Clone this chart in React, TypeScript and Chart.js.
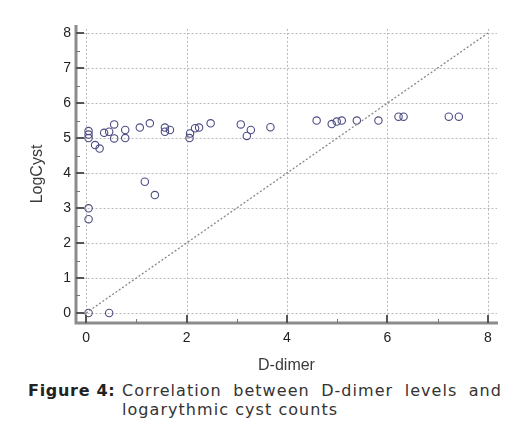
import React, { useEffect, useRef } from "react";
import { Chart, registerables } from "chart.js";

Chart.register(...registerables);

const dDimer = [
  0.05, 0.05, 0.05, 0.18, 0.27, 0.36, 0.46, 0.56, 0.56, 0.78, 0.78, 1.07, 1.27, 1.17, 1.37,
  1.57, 1.57, 1.67, 2.06, 2.07, 2.17, 2.25, 2.48, 3.08, 3.2, 3.28, 3.67, 4.59, 4.89, 4.99,
  5.09, 5.39, 5.82, 6.22, 6.32, 7.22, 7.42, 0.05, 0.05, 0.05, 0.46,
];
const logCyst = [
  5.2, 5.1, 5.0, 4.8, 4.7, 5.15, 5.18, 5.39, 4.99, 5.23, 5.0, 5.3, 5.42, 3.75, 3.37,
  5.3, 5.18, 5.23, 5.0, 5.13, 5.28, 5.3, 5.42, 5.39, 5.06, 5.23, 5.31, 5.5, 5.4, 5.47,
  5.5, 5.5, 5.5, 5.61, 5.61, 5.61, 5.61, 2.99, 2.68, 0.0, 0.0,
];
const identityLine = [0, 8];
const xTicks = [0, 2, 4, 6, 8];
const xMinor = [1, 3, 5, 7];
const yTicks = [0, 1, 2, 3, 4, 5, 6, 7, 8];
const yMinor = [0.5, 1.5, 2.5, 3.5, 4.5, 5.5, 6.5, 7.5];

const captionLabel = "Figure 4:";
const captionLine1 = "Correlation between D-dimer levels and";
const captionLine2 = "logarythmic cyst counts";

const tickFont = { family: "'Liberation Sans', Arial, sans-serif", size: 14 };
const titleFont = { family: "'Liberation Sans', Arial, sans-serif", size: 16 };

const framePlugin = {
  id: "frame",
  beforeDatasetsDraw(chart: any) {
    const { ctx, chartArea, scales } = chart;
    const xs = scales.x;
    const ys = scales.y;
    ctx.save();
    ctx.strokeStyle = "#b8b8b8";
    ctx.lineWidth = 1;
    ctx.setLineDash([2, 2]);
    const gx0 = xs.getPixelForValue(-0.05);
    for (const v of yTicks) {
      const y = Math.round(ys.getPixelForValue(v)) + 0.5;
      ctx.beginPath();
      ctx.moveTo(gx0, y);
      ctx.lineTo(chartArea.right, y);
      ctx.stroke();
    }
    const gy0 = ys.getPixelForValue(8.12);
    for (const v of xTicks) {
      const x = Math.round(xs.getPixelForValue(v)) + 0.5;
      ctx.beginPath();
      ctx.moveTo(x, gy0);
      ctx.lineTo(x, chartArea.bottom);
      ctx.stroke();
    }
    ctx.restore();
  },
  afterDatasetsDraw(chart: any) {
    const { ctx, chartArea, scales } = chart;
    const xs = scales.x;
    const ys = scales.y;
    ctx.save();
    ctx.setLineDash([]);
    ctx.strokeStyle = "#8c8c8c";
    ctx.lineWidth = 3;
    ctx.beginPath();
    ctx.moveTo(chartArea.left, chartArea.top);
    ctx.lineTo(chartArea.left, chartArea.bottom);
    ctx.lineTo(chartArea.right + 1, chartArea.bottom);
    ctx.stroke();
    ctx.strokeStyle = "#555";
    ctx.lineWidth = 2;
    for (const v of yTicks) {
      const y = Math.round(ys.getPixelForValue(v));
      ctx.beginPath();
      ctx.moveTo(chartArea.left, y);
      ctx.lineTo(chartArea.left + 8, y);
      ctx.stroke();
    }
    for (const v of xTicks) {
      const x = Math.round(xs.getPixelForValue(v));
      ctx.beginPath();
      ctx.moveTo(x, chartArea.bottom);
      ctx.lineTo(x, chartArea.bottom - 8);
      ctx.stroke();
    }
    ctx.lineWidth = 1;
    ctx.strokeStyle = "#777";
    for (const v of yMinor) {
      const y = Math.round(ys.getPixelForValue(v)) + 0.5;
      ctx.beginPath();
      ctx.moveTo(chartArea.left, y);
      ctx.lineTo(chartArea.left + 4, y);
      ctx.stroke();
    }
    for (const v of xMinor) {
      const x = Math.round(xs.getPixelForValue(v)) + 0.5;
      ctx.beginPath();
      ctx.moveTo(x, chartArea.bottom);
      ctx.lineTo(x, chartArea.bottom - 4);
      ctx.stroke();
    }
    ctx.restore();
  },
};

export default function App() {
  const ref = useRef<HTMLCanvasElement>(null);
  useEffect(() => {
    if (!ref.current) return;
    const points = dDimer.map((x, i) => ({ x, y: logCyst[i] }));
    const chart = new Chart(ref.current, {
      type: "scatter",
      data: {
        datasets: [
          {
            type: "line",
            data: identityLine.map((v) => ({ x: v, y: v })),
            borderColor: "#8f8585",
            borderWidth: 1.3,
            borderDash: [2, 2],
            pointRadius: 0,
            fill: false,
          } as any,
          {
            data: points,
            pointStyle: "circle",
            pointRadius: 3.7,
            pointBorderWidth: 1.1,
            pointBackgroundColor: "rgba(255,255,255,0)",
            pointBorderColor: "#4b4b82",
            borderColor: "#4b4b82",
            backgroundColor: "rgba(255,255,255,0)",
          },
        ],
      },
      options: {
        animation: false,
        responsive: false,
        devicePixelRatio: 1,
        layout: { padding: { left: 0, top: 25, right: 12, bottom: 0 } },
        plugins: { legend: { display: false }, tooltip: { enabled: false } },
        scales: {
          x: {
            type: "linear",
            min: -0.2,
            max: 8.18,
            afterBuildTicks: (s: any) => {
              s.ticks = xTicks.map((value) => ({ value }));
            },
            afterFit: (s: any) => {
              s.height = 52;
            },
            grid: { display: false, drawTicks: false },
            border: { display: false },
            ticks: { font: tickFont, color: "#222", padding: 7, maxRotation: 0 },
            title: {
              display: true,
              text: "D-dimer",
              font: titleFont,
              color: "#3a3a3a",
              padding: { top: 0, bottom: 0 },
            },
          },
          y: {
            type: "linear",
            min: -0.286,
            max: 8.23,
            afterBuildTicks: (s: any) => {
              s.ticks = yTicks.map((value) => ({ value }));
            },
            afterFit: (s: any) => {
              s.width = 76;
            },
            grid: { display: false, drawTicks: false },
            border: { display: false },
            ticks: { font: tickFont, color: "#222", padding: 5 },
            title: {
              display: true,
              text: "LogCyst",
              font: titleFont,
              color: "#3a3a3a",
              padding: { top: 28, bottom: 0 },
            },
          },
        },
      },
      plugins: [framePlugin],
    } as any);
    return () => chart.destroy();
  }, []);

  const capFont = "'DejaVu Sans', Verdana, sans-serif";
  const bodyStyle: React.CSSProperties = {
    fontFamily: capFont,
    fontSize: 16,
    lineHeight: "19px",
    letterSpacing: "1.05px",
    color: "#333",
    whiteSpace: "nowrap",
  };
  return (
    <div style={{ position: "fixed", left: 0, top: 0, width: 509, height: 427, background: "#fff" }}>
      <canvas ref={ref} width={509} height={375} style={{ position: "absolute", left: 0, top: 0, width: 509, height: 375 }} />
      <div
        style={{
          position: "absolute",
          left: 28,
          top: 381,
          fontWeight: "bold",
          fontFamily: capFont,
          fontSize: 16,
          lineHeight: "19px",
          letterSpacing: "0.7px",
          color: "#222",
        }}
      >
        {captionLabel}
      </div>
      <div
        style={{
          ...bodyStyle,
          position: "absolute",
          left: 122,
          top: 381,
          width: 380,
          textAlign: "justify",
          textAlignLast: "justify",
          whiteSpace: "normal",
        }}
      >
        {captionLine1}
      </div>
      <div style={{ ...bodyStyle, position: "absolute", left: 122, top: 400 }}>{captionLine2}</div>
    </div>
  );
}
